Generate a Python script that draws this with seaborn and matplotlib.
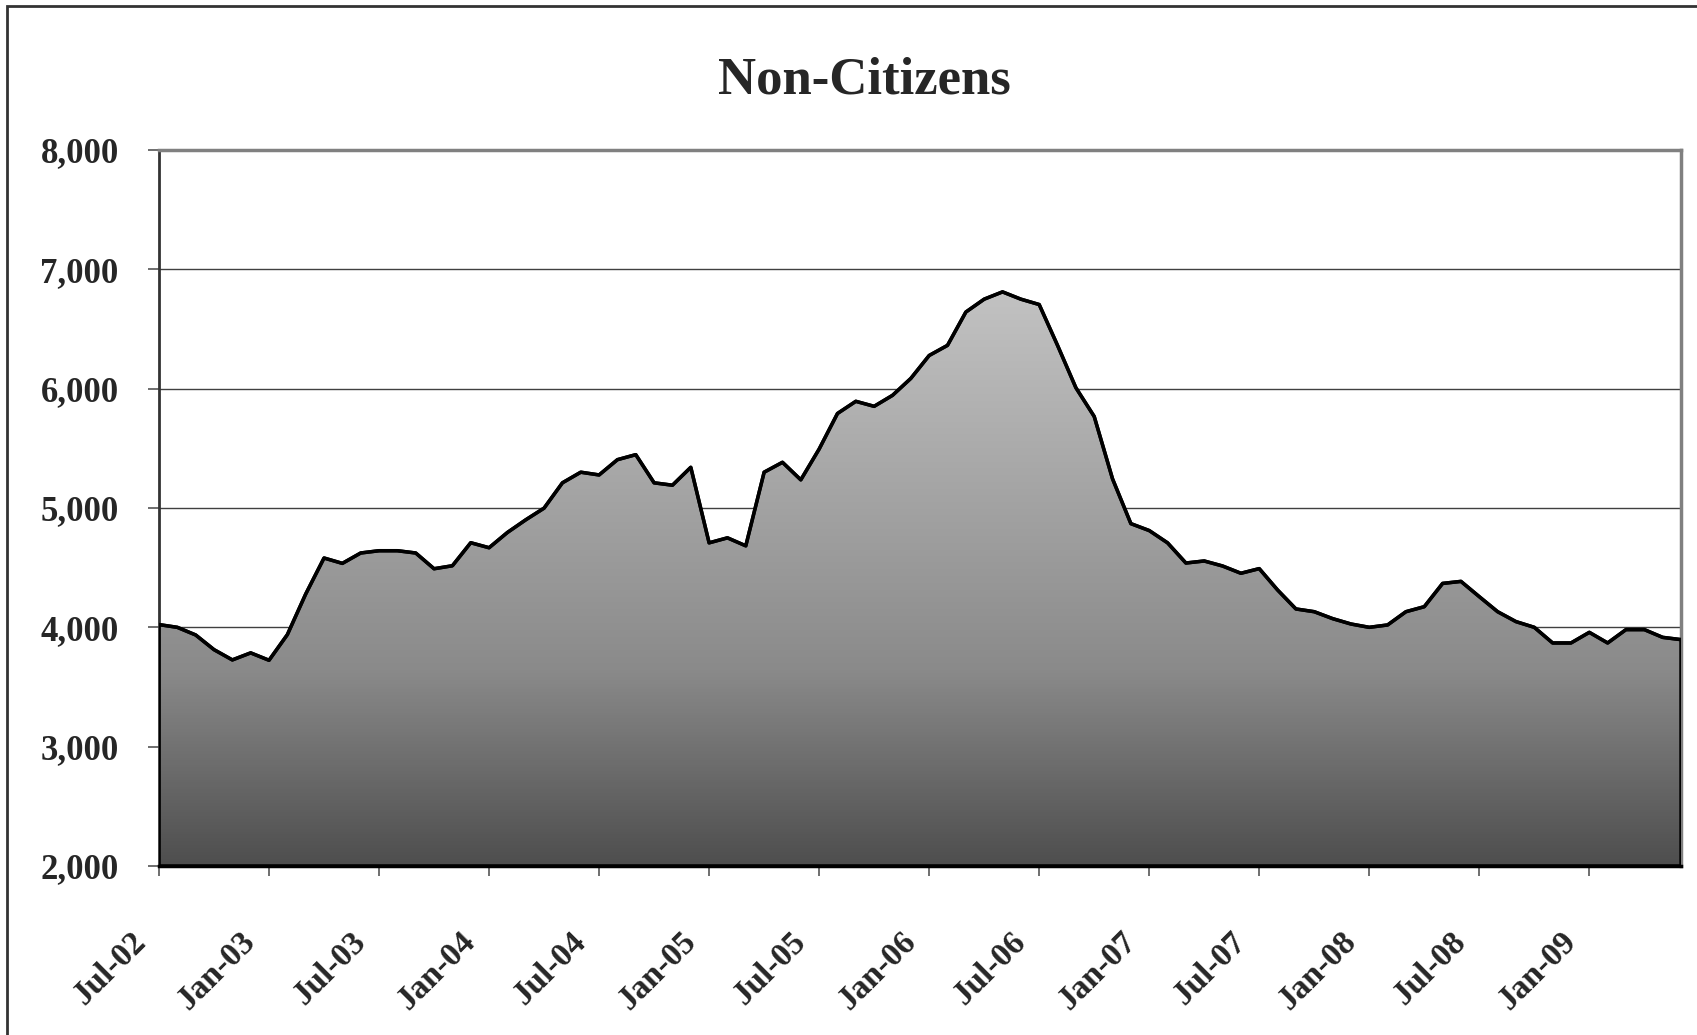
# Non-Citizens monthly series, Jul-02 to Jun-09, drawn as a gradient area chart.

import numpy as np
import pandas as pd
import matplotlib
matplotlib.use("Agg")
import matplotlib.pyplot as plt
import matplotlib.transforms as mtransforms
from matplotlib.colors import LinearSegmentedColormap, Normalize
from matplotlib.patches import Rectangle
import seaborn as sns

# Data, one value per month starting Jul-02.
months = pd.date_range("2002-07-01", "2009-06-01", freq="MS")
non_citizens = [4023, 4000, 3936, 3813, 3727, 3786, 3724, 3939, 4279, 4581,
                4536, 4623, 4642, 4642, 4623, 4491, 4516, 4709, 4667, 4795,
                4901, 4999, 5211, 5300, 5277, 5405, 5447, 5211, 5191, 5341,
                4708, 4750, 4683, 5300, 5383, 5236, 5494, 5792, 5894, 5852,
                5944, 6086, 6278, 6363, 6642, 6750, 6811, 6750, 6705, 6363,
                6008, 5767, 5244, 4869, 4811, 4708, 4539, 4556, 4514, 4453,
                4492, 4313, 4154, 4131, 4073, 4028, 4000, 4020, 4131, 4173,
                4368, 4385, 4257, 4131, 4048, 4000, 3869, 3869, 3958, 3869,
                3981, 3981, 3916, 3897]
tick_labels = ["Jul-02", "Jan-03", "Jul-03", "Jan-04", "Jul-04", "Jan-05",
               "Jul-05", "Jan-06", "Jul-06", "Jan-07", "Jul-07", "Jan-08",
               "Jul-08", "Jan-09"]
y_ticks = [2000, 3000, 4000, 5000, 6000, 7000, 8000]

df = pd.DataFrame({"month": months, "value": non_citizens})
df["pos"] = np.arange(len(df))

sns.set_style("white")
plt.rcParams["font.family"] = ["Liberation Serif", "DejaVu Serif"]
plt.rcParams["font.weight"] = "bold"

W, H = 1697, 1035
fig = plt.figure(figsize=(W / 100, H / 100), dpi=100)
ax = fig.add_axes([159 / W, 1 - 866 / H, 1522 / W, 716 / H])

# Outer chart border (cropped at right/bottom in the reference).
fig.patches.append(Rectangle((7 / W, -0.1), 1.2, 1 - 6 / H + 0.1,
                             transform=fig.transFigure, fill=False,
                             edgecolor="#333333", lw=2, zorder=0))

# Gridlines sit behind the area.
for v in y_ticks[1:-1]:
    ax.axhline(v, color="#404040", lw=1, zorder=1)

# Area fill with a vertical grey gradient, clipped to the series polygon.
poly = ax.fill_between(df["pos"], df["value"], 2000, facecolor="none",
                       edgecolor="black", lw=2.5, zorder=3)
cmap = LinearSegmentedColormap.from_list(
    "greys", [(0.0, "#4e4e4e"), (0.34, "#8a8a8a"), (1.0, "#c2c2c2")])
grad = np.linspace(2000, 6811, 500).reshape(-1, 1)
im = ax.imshow(grad, extent=[0, len(df) - 1, 2000, 6811], origin="lower",
               aspect="auto", cmap=cmap, norm=Normalize(2000, 6811), zorder=2)
im.set_clip_path(poly.get_paths()[0], transform=ax.transData)

sns.lineplot(data=df, x="pos", y="value", color="black", lw=2.5, ax=ax,
             zorder=4)

ax.set_xlim(0, len(df) - 1)
ax.set_ylim(2000, 8000)
ax.set_xlabel("")
ax.set_ylabel("")

ax.set_yticks(y_ticks)
ax.set_yticklabels([f"{v:,}" for v in y_ticks], fontsize=25,
                   fontweight="bold")
ax.set_xticks(df["pos"][::6])
ax.set_xticklabels(tick_labels, fontsize=24, fontweight="bold", rotation=45,
                   ha="right", va="center", rotation_mode="anchor")
ax.tick_params(axis="y", direction="out", length=8, width=1.2,
               color="#555555", pad=21, left=True)
ax.tick_params(axis="x", direction="out", length=7, width=1.2,
               color="#555555", pad=44, bottom=True)

# Excel-style placement: labels sit slightly left of their tick.
offset = mtransforms.ScaledTranslation(-18 / 100, 0, fig.dpi_scale_trans)
for lab in ax.get_xticklabels():
    lab.set_transform(lab.get_transform() + offset)

for side in ["top", "right"]:
    ax.spines[side].set_color("#808080")
    ax.spines[side].set_linewidth(2.5)
ax.spines["left"].set_color("#333333")
ax.spines["left"].set_linewidth(2)
ax.spines["bottom"].set_color("black")
ax.spines["bottom"].set_linewidth(2.5)

fig.text(864.5 / W, 1 - 94 / H, "Non-Citizens", fontsize=38,
         fontweight="bold", ha="center", va="baseline")

fig.savefig("out.png", dpi=100)
